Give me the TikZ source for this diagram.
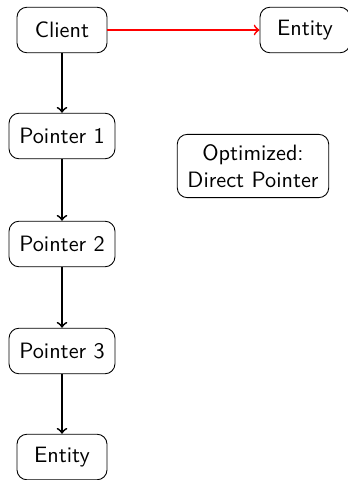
\documentclass[tikz,border=0pt]{standalone}
\usetikzlibrary{arrows}
\renewcommand{\familydefault}{\sfdefault}
\begin{document}
\begin{tikzpicture}[x=0.45pt,y=-0.45pt,
  box/.style={draw, rounded corners=4.5pt, inner sep=4.6pt, minimum width=40.5pt,
    minimum height=20.5pt, align=center, font=\sffamily},
  link/.style={->, thick, black},
  shortcut/.style={->, thick, red}]
  \useasboundingbox[clip] (0,0) rectangle (348,480);
  \node[box] (client) at (62,30) {Client};
  \node[box] (target) at (305,30) {Entity};
  \node[box] (p1) at (62,136) {Pointer 1};
  \node[box] (p2) at (62,244) {Pointer 2};
  \node[box] (p3) at (62,351) {Pointer 3};
  \node[box] (entity) at (62,457) {Entity};
  \node[box] (note) at (253,166) {Optimized:\\Direct Pointer};
  \draw[link] (client) -- (p1);
  \draw[link] (p1) -- (p2);
  \draw[link] (p2) -- (p3);
  \draw[link] (p3) -- (entity);
  \draw[shortcut] (client) -- (target);
\end{tikzpicture}
\end{document}
